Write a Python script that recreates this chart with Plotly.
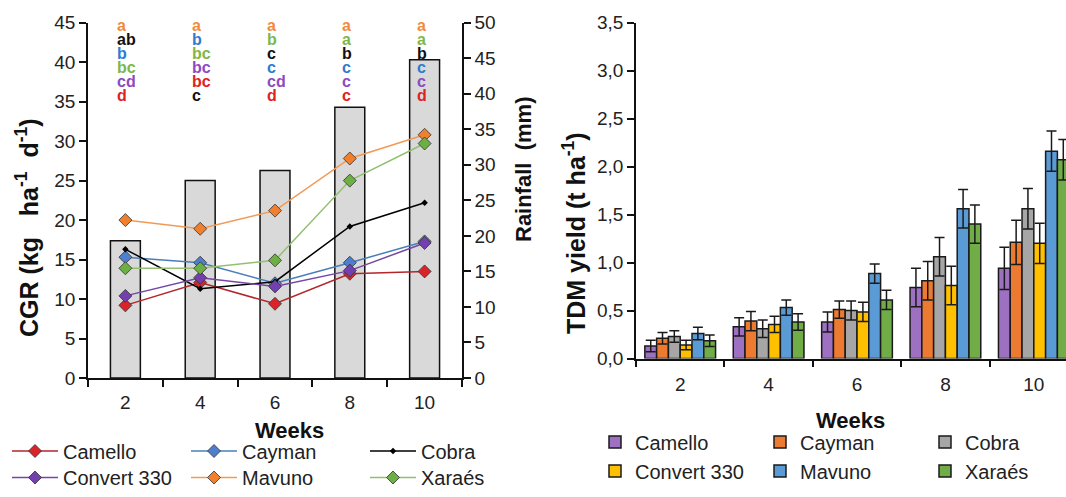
import plotly.graph_objects as go

# ---------------- data ----------------
weeks = ['2', '4', '6', '8', '10']
cultivars = ['Camello', 'Cayman', 'Cobra', 'Convert 330', 'Mavuno', 'Xaraés']

rainfall_mm = [19.3, 27.8, 29.2, 38.1, 44.8]

cgr_camello = [9.2, 12.1, 9.4, 13.2, 13.5]
cgr_cayman = [15.3, 14.6, 12.0, 14.6, 17.3]
cgr_cobra = [16.3, 11.3, 12.2, 19.2, 22.2]
cgr_convert = [10.4, 12.7, 11.6, 13.6, 17.1]
cgr_mavuno = [20.0, 18.9, 21.2, 27.8, 30.8]
cgr_xaraes = [13.9, 13.9, 14.9, 25.0, 29.7]

tdm_camello = [0.13, 0.33, 0.38, 0.74, 0.94]
tdm_cayman = [0.21, 0.39, 0.51, 0.81, 1.21]
tdm_cobra = [0.23, 0.31, 0.50, 1.06, 1.56]
tdm_convert = [0.14, 0.355, 0.485, 0.76, 1.20]
tdm_mavuno = [0.26, 0.53, 0.885, 1.56, 2.16]
tdm_xaraes = [0.185, 0.38, 0.61, 1.40, 2.07]

err_camello = [0.06, 0.095, 0.105, 0.20, 0.22]
err_cayman = [0.06, 0.10, 0.09, 0.20, 0.23]
err_cobra = [0.06, 0.09, 0.10, 0.20, 0.21]
err_convert = [0.05, 0.085, 0.10, 0.20, 0.21]
err_mavuno = [0.065, 0.08, 0.10, 0.20, 0.21]
err_xaraes = [0.06, 0.087, 0.10, 0.20, 0.21]

# significance letters per week (top to bottom) and the cultivar each belongs to
sig_letters = [
    ['a', 'ab', 'b', 'bc', 'cd', 'd'],
    ['a', 'b', 'bc', 'bc', 'bc', 'c'],
    ['a', 'b', 'c', 'c', 'cd', 'd'],
    ['a', 'a', 'b', 'c', 'c', 'c'],
    ['a', 'a', 'b', 'c', 'c', 'd'],
]
sig_cultivar = [
    ['Mavuno', 'Cobra', 'Cayman', 'Xaraés', 'Convert 330', 'Camello'],
    ['Mavuno', 'Cayman', 'Xaraés', 'Convert 330', 'Camello', 'Cobra'],
    ['Mavuno', 'Xaraés', 'Cobra', 'Cayman', 'Convert 330', 'Camello'],
    ['Mavuno', 'Xaraés', 'Cobra', 'Cayman', 'Convert 330', 'Camello'],
    ['Mavuno', 'Xaraés', 'Cobra', 'Cayman', 'Convert 330', 'Camello'],
]

cgr_series = [cgr_camello, cgr_cayman, cgr_cobra, cgr_convert, cgr_mavuno, cgr_xaraes]
tdm_series = [tdm_camello, tdm_cayman, tdm_cobra, tdm_convert, tdm_mavuno, tdm_xaraes]
err_series = [err_camello, err_cayman, err_cobra, err_convert, err_mavuno, err_xaraes]

# ---------------- styles ----------------
FONT = 'Liberation Sans, Arial, sans-serif'
W, H = 1066, 497

line_col = {'Camello': '#B3262B', 'Cayman': '#4A7EBB', 'Cobra': '#000000',
            'Convert 330': '#7446A6', 'Mavuno': '#F29A55', 'Xaraés': '#93C070'}
mark_col = {'Camello': '#D9242A', 'Cayman': '#4F7FCC', 'Cobra': '#000000',
            'Convert 330': '#7440B0', 'Mavuno': '#F07F2E', 'Xaraés': '#6DAE45'}
letter_col = {'Camello': '#E0231E', 'Cayman': '#2E7BD0', 'Cobra': '#111111',
              'Convert 330': '#8A4CC2', 'Mavuno': '#F08A3E', 'Xaraés': '#7DB848'}
bar_col = {'Camello': '#9E70C1', 'Cayman': '#EC7A30', 'Cobra': '#A6A6A6',
           'Convert 330': '#FFC000', 'Mavuno': '#5B9BD5', 'Xaraés': '#70AD47'}


def px_x(p):
    return p / W


def px_y(p):
    return 1 - p / H


fig = go.Figure()

# rainfall bars (left panel, right axis)
fig.add_trace(go.Bar(x=weeks, y=rainfall_mm, xaxis='x', yaxis='y', width=0.4,
                     marker=dict(color='#D9D9D9', line=dict(color='#111111', width=1.5)),
                     showlegend=False, name='Rainfall'))

# CGR lines
for i, (name, vals) in enumerate(zip(cultivars, cgr_series)):
    is_cobra = name == 'Cobra'
    fig.add_trace(go.Scatter(
        x=weeks, y=vals, xaxis='x', yaxis='y2', mode='lines+markers', name=name,
        line=dict(color=line_col[name], width=1.5),
        marker=dict(symbol='diamond', size=5 if is_cobra else 10, color=mark_col[name],
                    line=dict(color='#333333', width=0.8 if not is_cobra else 0)),
        legend='legend' if i < 3 else 'legend2',
        legendwidth=90 if i % 3 == 2 else None))

# TDM bars
for i, (name, vals, errs) in enumerate(zip(cultivars, tdm_series, err_series)):
    fig.add_trace(go.Bar(
        x=weeks, y=vals, xaxis='x2', yaxis='y3', name=name,
        marker=dict(color=bar_col[name], line=dict(color='#1a1a1a', width=1.5)),
        error_y=dict(type='data', array=errs, color='#1a1a1a', thickness=1.5, width=5),
        legend='legend3' if i < 3 else 'legend4',
        legendwidth=70 if i % 3 == 2 else None))

axis_common = dict(showline=True, linecolor='#111111', linewidth=1.5, ticks='outside',
                   tickcolor='#111111', tickwidth=1.5, ticklen=7, showgrid=False,
                   zeroline=False, automargin=False,
                   tickfont=dict(family=FONT, size=19, color='#222222'))

annotations = []
# significance letters
for wi, wk in enumerate(weeks):
    for ri, (let, cv) in enumerate(zip(sig_letters[wi], sig_cultivar[wi])):
        annotations.append(dict(
            x=wi, xref='x', y=44.6 - ri * 1.77, yref='y2', text='<b>%s</b>' % let,
            showarrow=False, xanchor='left', yanchor='middle', xshift=-10,
            font=dict(family=FONT, size=16, color=letter_col[cv])))

title_font = dict(family=FONT, size=22, color='#111111')
annotations += [
    dict(text='<b>CGR (kg\u00a0\u00a0\u00a0ha<sup>-1</sup>\u00a0\u00a0d<sup>-1</sup>)</b>', textangle=-90,
         x=px_x(27), y=px_y(228), xref='paper', yref='paper', showarrow=False,
         xanchor='center', yanchor='middle', font=dict(title_font, size=25)),
    dict(text='<b>Rainfall\u00a0\u00a0(mm)</b>', textangle=-90,
         x=px_x(523), y=px_y(170), xref='paper', yref='paper', showarrow=False,
         xanchor='center', yanchor='middle', font=title_font),
    dict(text='<b>TDM yield\u00a0(t\u00a0ha<sup>-1</sup>)</b>', textangle=-90,
         x=px_x(574), y=px_y(233), xref='paper', yref='paper', showarrow=False,
         xanchor='center', yanchor='middle', font=dict(title_font, size=25)),
    dict(text='<b>Weeks</b>', x=px_x(289), y=px_y(430), xref='paper', yref='paper',
         showarrow=False, xanchor='center', yanchor='middle', font=title_font),
    dict(text='<b>Weeks</b>', x=px_x(850), y=px_y(420), xref='paper', yref='paper',
         showarrow=False, xanchor='center', yanchor='middle', font=title_font),
]

leg_font = dict(family=FONT, size=20, color='#222222')
leg_line = dict(orientation='h', font=leg_font, bgcolor='rgba(0,0,0,0)', xanchor='left',
                itemwidth=46, entrywidth=118, tracegroupgap=0)
leg_bar = dict(orientation='h', font=leg_font, bgcolor='rgba(0,0,0,0)', xanchor='left',
               itemwidth=30, entrywidth=120, tracegroupgap=0)

fig.update_layout(
    width=W, height=H, margin=dict(l=0, r=0, t=0, b=0),
    paper_bgcolor='white', plot_bgcolor='white', separators=',.',
    barmode='group', bargap=0.2, bargroupgap=0,
    font=dict(family=FONT),
    xaxis=dict(domain=[px_x(88), px_x(462)], anchor='y', type='category',
               range=[-0.5, 4.5], tickson='boundaries', ticklabelstandoff=6, **axis_common),
    yaxis=dict(domain=[px_y(378), px_y(22.7)], anchor='x', side='right', range=[0, 50],
               dtick=5, **axis_common),
    yaxis2=dict(domain=[px_y(378), px_y(22.7)], anchor='x', overlaying='y', side='left',
                range=[0, 45], dtick=5, **axis_common),
    xaxis2=dict(domain=[px_x(636), 1.0], anchor='y3', type='category',
                range=[-0.5, 4.364], tickson='boundaries', ticklabelstandoff=8, **axis_common),
    yaxis3=dict(domain=[px_y(358.5), px_y(22.5)], anchor='x2', range=[0, 3.5], dtick=0.5,
                tickformat='.1f', **axis_common),
    legend=dict(leg_line, x=px_x(7), y=px_y(451), yanchor='middle'),
    legend2=dict(leg_line, x=px_x(7), y=0, yanchor='bottom'),
    legend3=dict(leg_bar, x=px_x(595), y=px_y(442), yanchor='middle'),
    legend4=dict(leg_bar, x=px_x(595), y=px_y(471), yanchor='middle'),
    annotations=annotations,
)

fig.write_html('out.html')
